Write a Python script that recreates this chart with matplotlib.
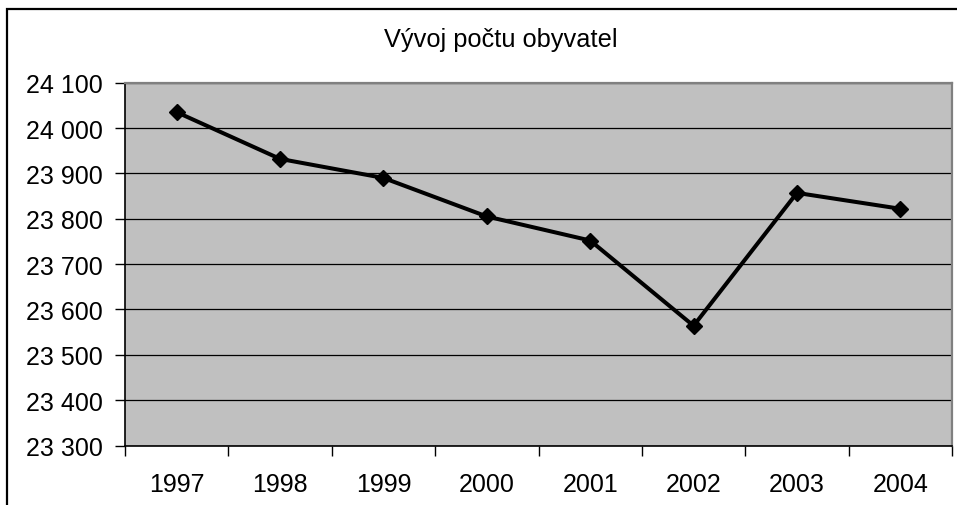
import matplotlib
matplotlib.use('Agg')
import matplotlib.pyplot as plt
import numpy as np
from matplotlib.patches import Rectangle
from matplotlib.ticker import FixedLocator, NullFormatter

years = ['1997', '1998', '1999', '2000', '2001', '2002', '2003', '2004']
population = [24035, 23932, 23890, 23805, 23752, 23564, 23857, 23822]
y_ticks = [23300, 23400, 23500, 23600, 23700, 23800, 23900, 24000, 24100]

plt.rcParams['font.family'] = ['Liberation Sans', 'DejaVu Sans']

fig = plt.figure(figsize=(9.57, 5.06), dpi=100)
ax = fig.add_axes([125/957, 1 - 446.5/506, (952 - 125)/957, (446.5 - 83.7)/506])
ax.set_facecolor('#c0c0c0')

x = np.arange(len(years))
ax.plot(x, population, color='black', linewidth=2.9, marker='D', markersize=8.5,
        zorder=3)

ax.set_xlim(-0.5, len(years) - 0.5)
ax.set_ylim(y_ticks[0], y_ticks[-1])
ax.set_yticks(y_ticks)
ax.set_yticklabels([f'{v:,}'.replace(',', ' ') for v in y_ticks])
ax.yaxis.grid(True, color='black', linewidth=0.9)
ax.set_axisbelow(True)

# category boundaries as major ticks, labels at centres
ax.xaxis.set_major_locator(FixedLocator(np.arange(-0.5, len(years), 1.0)))
ax.xaxis.set_major_formatter(NullFormatter())
ax.xaxis.set_minor_locator(FixedLocator(x))
ax.set_xticklabels(years, minor=True)
ax.tick_params(axis='x', which='major', length=7, width=1, color='black')
ax.tick_params(axis='x', which='minor', length=0, pad=19, labelsize=18)
ax.tick_params(axis='y', length=7, width=1, pad=9, labelsize=18)

for side in ['left', 'bottom']:
    ax.spines[side].set_color('black')
    ax.spines[side].set_linewidth(1.2)
for side in ['top', 'right']:
    ax.spines[side].set_color('#808080')
    ax.spines[side].set_linewidth(1.6)

fig.text(501/957, 1 - 40/506, 'Vývoj počtu obyvatel', ha='center', va='center',
         fontsize=18.3)

# chart area border (cut off at right and bottom)
fig.patches.append(Rectangle((7.5/957, -0.1), 1.2, 1 - 9.5/506 + 0.1,
                             transform=fig.transFigure, fill=False,
                             edgecolor='black', linewidth=1.6))

fig.savefig('out.png', dpi=100)
